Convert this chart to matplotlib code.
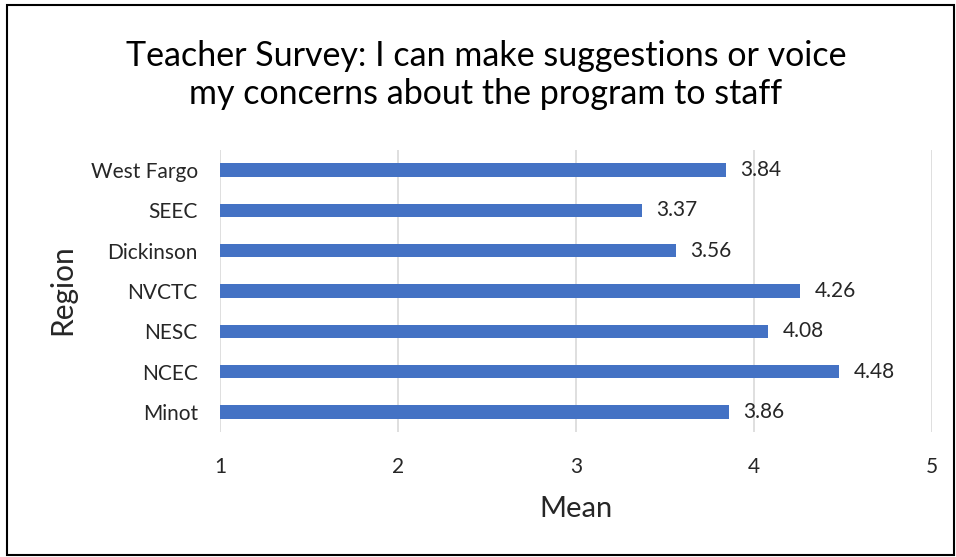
import matplotlib
matplotlib.use("Agg")
import matplotlib.pyplot as plt
from matplotlib.patches import Rectangle

regions = ["Minot", "NCEC", "NESC", "NVCTC", "Dickinson", "SEEC", "West Fargo"]
means = [3.86, 4.48, 4.08, 4.26, 3.56, 3.37, 3.84]
xticks = [1, 2, 3, 4, 5]

plt.rcParams['font.family'] = ['Lato', 'DejaVu Sans']

W, H = 956, 557
fig = plt.figure(figsize=(W / 100, H / 100), dpi=100)

# outer border
fig.patches.append(Rectangle((7 / W, 2 / H), 947 / W, 550 / H, transform=fig.transFigure,
                             fill=False, edgecolor='black', linewidth=1.5))

ax = fig.add_axes([220 / W, 1 - 432 / H, 712 / W, 282 / H])
y = range(len(regions))
ax.barh(y, [m - 1 for m in means], left=1, height=0.33, color='#4472C4', zorder=3)
for yi, m in zip(y, means):
    ax.text(m + 0.08, yi, f"{m:.2f}", va='center', ha='left', fontsize=15, color='#262626')

ax.set_xlim(1, 5)
ax.set_ylim(-0.5, len(regions) - 0.5)
ax.set_xticks(xticks)
ax.set_xticklabels([str(t) for t in xticks], fontsize=15, color='#262626')
ax.set_yticks(list(y))
ax.set_yticklabels(regions, fontsize=15, color='#262626')
ax.tick_params(length=0)
ax.tick_params(axis='x', pad=18)
ax.tick_params(axis='y', pad=16)
ax.xaxis.grid(True, color='#D9D9D9', linewidth=1.2, zorder=0)
for s in ax.spines.values():
    s.set_visible(False)

ax.set_xlabel("Mean", fontsize=21, color='#262626', labelpad=14)
fig.text(62 / W, 1 - 290 / H, "Region", rotation=90, ha='center', va='center',
         fontsize=21.5, color='#262626')

fig.text(486 / W, 1 - 75 / H,
         "Teacher Survey: I can make suggestions or voice\nmy concerns about the program to staff",
         ha='center', va='center', fontsize=24.5, color='black', linespacing=1.25)

fig.savefig("out.png", dpi=100)
